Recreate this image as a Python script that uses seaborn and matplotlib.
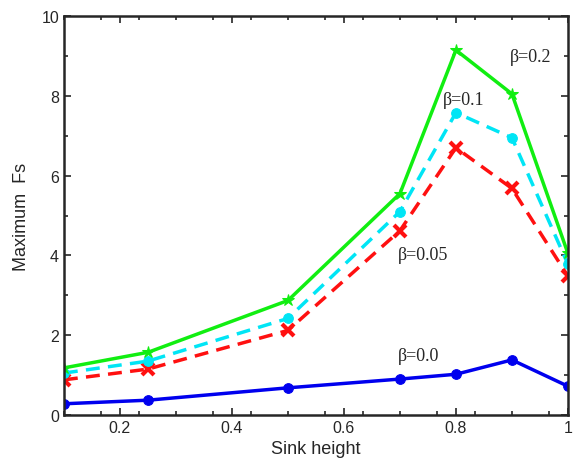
import numpy as np
import pandas as pd
import matplotlib
matplotlib.use('Agg')
import matplotlib.pyplot as plt
import seaborn as sns
from matplotlib.ticker import MultipleLocator, AutoMinorLocator

# Data
sink_height = [0.1, 0.25, 0.5, 0.7, 0.8, 0.9, 1.0]
fs_b00 = [0.28, 0.37, 0.68, 0.90, 1.02, 1.38, 0.72]
fs_b005 = [0.88, 1.15, 2.12, 4.62, 6.70, 5.68, 3.48]
fs_b01 = [1.05, 1.35, 2.42, 5.10, 7.58, 6.95, 3.78]
fs_b02 = [1.18, 1.57, 2.87, 5.55, 9.15, 8.05, 4.05]

labels = ['β=0.0', 'β=0.05', 'β=0.1', 'β=0.2']

sns.set_style('ticks')
plt.rcParams['font.family'] = ['Liberation Sans', 'DejaVu Sans']

fig = plt.figure(figsize=(5.76, 4.77), dpi=100)
ax = fig.add_axes([0.111, 0.128, 0.875, 0.836])

df = pd.DataFrame({'x': sink_height, 'b00': fs_b00, 'b005': fs_b005,
                   'b01': fs_b01, 'b02': fs_b02})

blue, red, cyan, green = '#0000ee', '#ff1010', '#00e5f5', '#11ee11'
sns.lineplot(data=df, x='x', y='b00', ax=ax, color=blue, lw=2.5,
             marker='o', markersize=7, mec=blue, mfc=blue)
sns.lineplot(data=df, x='x', y='b005', ax=ax, color=red, lw=2.5,
             marker='x', markersize=8, markeredgewidth=3, mec=red)
sns.lineplot(data=df, x='x', y='b01', ax=ax, color=cyan, lw=2.5,
             marker='o', markersize=7, mec=cyan, mfc=cyan)
sns.lineplot(data=df, x='x', y='b02', ax=ax, color=green, lw=2.5,
             marker='*', markersize=9, mec=green, mfc=green)

ax.lines[1].set_dashes([4, 2.4])
ax.lines[2].set_dashes([4, 2.4])

ax.set_xlim(0.1, 1.0)
ax.set_ylim(0, 10)
ax.xaxis.set_major_locator(MultipleLocator(0.2))
ax.xaxis.set_minor_locator(MultipleLocator(1 / 15, offset=0.1))
ax.yaxis.set_major_locator(MultipleLocator(2))
ax.yaxis.set_minor_locator(AutoMinorLocator(2))
ax.set_xticks([0.2, 0.4, 0.6, 0.8, 1.0])
ax.set_xticklabels(['0.2', '0.4', '0.6', '0.8', '1'])
ax.tick_params(which='both', direction='in', top=True, right=True, width=1.2)
ax.tick_params(which='major', length=5, labelsize=11.5)
ax.tick_params(which='minor', length=3)
for s in ax.spines.values():
    s.set_linewidth(1.8)

ax.set_xlabel('Sink height', fontsize=13, labelpad=4)
ax.set_ylabel('Maximum  Fs', fontsize=13, labelpad=8)

serif = ['Liberation Serif', 'DejaVu Serif']
ax.text(0.896, 9.0, labels[3], fontsize=13, family=serif, ha='left', va='center')
ax.text(0.777, 7.92, labels[2], fontsize=13, family=serif, ha='left', va='center')
ax.text(0.696, 4.03, labels[1], fontsize=13, family=serif, ha='left', va='center')
ax.text(0.696, 1.48, labels[0], fontsize=13, family=serif, ha='left', va='center')

fig.savefig('out.png', dpi=100)
